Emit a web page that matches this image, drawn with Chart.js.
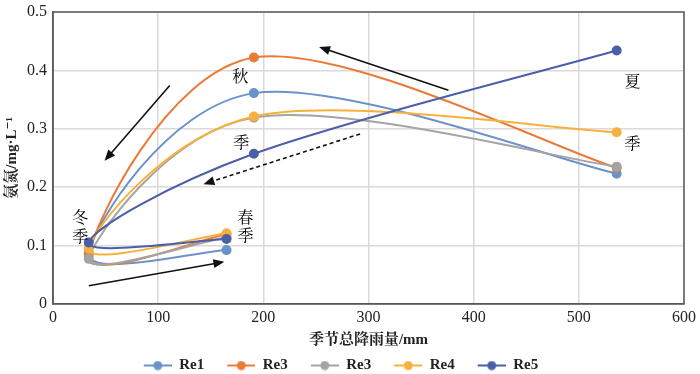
<!DOCTYPE html>
<html>
<head>
<meta charset="utf-8">
<script src="https://cdn.jsdelivr.net/npm/chart.js@4/dist/chart.umd.min.js"></script>
<style>
  html, body { margin: 0; padding: 0; background: #fff; }
  #wrap { width: 700px; height: 374px; }
</style>
</head>
<body>
<div id="wrap"><canvas id="chart" width="700" height="374"></canvas></div>
<script>
const serifFont = "'Liberation Serif', 'DejaVu Serif', 'Noto Serif CJK SC', 'Noto Sans CJK SC', serif";

/* Data: points in order spring, winter, autumn, summer */
const seasonRain = [165, 34, 191, 536];
const seriesNames = ["Re1", "Re3", "Re3", "Re4", "Re5"];
const seriesColors = ["#6b92cb", "#ec7a37", "#a5a3a3", "#f6b13d", "#4b5fa9"];
const re1Values = [0.092, 0.087, 0.361, 0.223];
const re3Values = [0.119, 0.083, 0.422, 0.233];
const re3bValues = [0.114, 0.077, 0.319, 0.235];
const re4Values = [0.121, 0.095, 0.321, 0.294];
const re5Values = [0.111, 0.105, 0.257, 0.434];
const allValues = [re1Values, re3Values, re3bValues, re4Values, re5Values];

const xTicks = [0, 100, 200, 300, 400, 500, 600];
const yTicks = [0, 0.1, 0.2, 0.3, 0.4, 0.5];

/* Annotation text and arrows, in data units */
const seasonLabels = [
    { text: "秋", x: 178, y: 0.388 },
    { text: "季", x: 179, y: 0.274 },
    { text: "夏", x: 551, y: 0.379 },
    { text: "季", x: 551, y: 0.272 },
    { text: "冬", x: 26, y: 0.145 },
    { text: "季", x: 26, y: 0.113 },
    { text: "春", x: 183, y: 0.145 },
    { text: "季", x: 183, y: 0.114 }
];
const arrows = [
    { from: [111, 0.374], to: [49, 0.245], dashed: false },
    { from: [376, 0.366], to: [253, 0.44], dashed: false },
    { from: [292, 0.291], to: [143, 0.205], dashed: true },
    { from: [34, 0.031], to: [163, 0.072], dashed: false }
];

function legendIcon(color) {
    // transparent strip on the left gives the gap between legend items
    const c = document.createElement("canvas");
    c.width = 42;
    c.height = 10;
    const g = c.getContext("2d");
    g.strokeStyle = color;
    g.lineWidth = 2;
    g.beginPath();
    g.moveTo(14, 5);
    g.lineTo(42, 5);
    g.stroke();
    g.fillStyle = color;
    g.beginPath();
    g.arc(28, 5, 4.5, 0, Math.PI * 2);
    g.fill();
    return c;
}

const datasets = seriesNames.map((name, i) => ({
    label: name,
    data: allValues[i].map((v, j) => ({ x: seasonRain[j], y: v })),
    borderColor: seriesColors[i],
    backgroundColor: seriesColors[i],
    borderWidth: 2,
    pointRadius: 4,
    pointHoverRadius: 4,
    showLine: true,
    tension: 0.4,
    icon: legendIcon(seriesColors[i])
})).reverse();

/* Excel-style smoothing: Catmull-Rom control points (1/6 of neighbour span) */
const excelSmooth = {
    id: "excelSmooth",
    beforeDatasetDraw(chart, args) {
        const line = args.meta.dataset;
        const pts = args.meta.data;
        if (!line || pts.length < 2) return;
        line.updateControlPoints(chart.chartArea, "x");
        const n = pts.length;
        pts.forEach((p, i) => {
            const prev = pts[Math.max(i - 1, 0)];
            const next = pts[Math.min(i + 1, n - 1)];
            const dx = (next.x - prev.x) / 6;
            const dy = (next.y - prev.y) / 6;
            p.cp1x = p.x - dx;
            p.cp1y = p.y - dy;
            p.cp2x = p.x + dx;
            p.cp2y = p.y + dy;
        });
    }
};

/* nudge the legend a little to the left, as in the original figure */
const legendShift = {
    id: "legendShift",
    afterLayout(chart) {
        chart.legend.left -= 8;
        chart.legend.right -= 8;
    }
};

const annotations = {
    id: "annotations",
    afterDraw(chart) {
        const { ctx, chartArea, scales } = chart;
        const xs = scales.x, ys = scales.y;
        ctx.save();
        ctx.strokeStyle = "#595959";
        ctx.lineWidth = 1.5;
        ctx.strokeRect(chartArea.left, chartArea.top, chartArea.right - chartArea.left, chartArea.bottom - chartArea.top);

        ctx.fillStyle = "#000";
        ctx.font = "16px " + serifFont;
        ctx.textAlign = "center";
        ctx.textBaseline = "middle";
        seasonLabels.forEach(l => {
            ctx.fillText(l.text, xs.getPixelForValue(l.x), ys.getPixelForValue(l.y));
        });

        arrows.forEach(a => {
            const x1 = xs.getPixelForValue(a.from[0]), y1 = ys.getPixelForValue(a.from[1]);
            const x2 = xs.getPixelForValue(a.to[0]), y2 = ys.getPixelForValue(a.to[1]);
            const ang = Math.atan2(y2 - y1, x2 - x1);
            ctx.strokeStyle = "#111";
            ctx.fillStyle = "#111";
            ctx.lineWidth = 1.6;
            ctx.setLineDash(a.dashed ? [4, 3] : []);
            ctx.beginPath();
            ctx.moveTo(x1, y1);
            ctx.lineTo(x2 - Math.cos(ang) * 8, y2 - Math.sin(ang) * 8);
            ctx.stroke();
            ctx.setLineDash([]);
            ctx.beginPath();
            ctx.moveTo(x2, y2);
            ctx.lineTo(x2 - Math.cos(ang) * 11 + Math.sin(ang) * 4.5, y2 - Math.sin(ang) * 11 - Math.cos(ang) * 4.5);
            ctx.lineTo(x2 - Math.cos(ang) * 11 - Math.sin(ang) * 4.5, y2 - Math.sin(ang) * 11 + Math.cos(ang) * 4.5);
            ctx.closePath();
            ctx.fill();
        });
        ctx.restore();
    }
};

new Chart(document.querySelector("#chart"), {
    type: "scatter",
    data: { datasets },
    options: {
        responsive: false,
        animation: false,
        events: [],
        layout: { padding: { top: 0, right: 16, left: 0, bottom: -9 } },
        plugins: {
            tooltip: { enabled: false },
            legend: {
                position: "bottom",
                reverse: true,
                labels: {
                    usePointStyle: true,
                    pointStyleWidth: 42,
                    boxHeight: 10,
                    padding: 9,
                    color: "#222",
                    font: { family: serifFont, size: 15, weight: "bold" },
                    generateLabels(chart) {
                        return chart.data.datasets.map((ds, i) => ({
                            text: ds.label,
                            pointStyle: ds.icon,
                            fillStyle: ds.borderColor,
                            strokeStyle: ds.borderColor,
                            lineWidth: 0,
                            fontColor: "#222",
                            datasetIndex: i
                        }));
                    }
                }
            }
        },
        scales: {
            x: {
                type: "linear",
                min: 0,
                max: 600,
                afterBuildTicks: s => { s.ticks = xTicks.map(v => ({ value: v })); },
                grid: { color: "#e0d8d8", lineWidth: 1.5, drawTicks: false },
                border: { color: "#595959", width: 1.5 },
                ticks: { color: "#222", padding: 4, font: { family: serifFont, size: 16 } },
                title: {
                    display: true,
                    text: "季节总降雨量/mm",
                    color: "#222",
                    padding: { top: 0, bottom: 0 },
                    font: { family: serifFont, size: 15, weight: "bold" }
                }
            },
            y: {
                min: 0,
                max: 0.5,
                afterBuildTicks: s => { s.ticks = yTicks.map(v => ({ value: v })); },
                afterFit: s => { s.width = 53; s.paddingTop = 12; },
                grid: { color: "#e0d8d8", lineWidth: 1.5, drawTicks: false },
                border: { color: "#595959", width: 1.5 },
                ticks: { color: "#222", padding: 6, font: { family: serifFont, size: 16 } },
                title: {
                    display: true,
                    text: "氨氮/mg·L⁻¹",
                    color: "#222",
                    padding: { top: 3, bottom: 2 },
                    font: { family: serifFont, size: 15, weight: "bold" }
                }
            }
        }
    },
    plugins: [excelSmooth, legendShift, annotations]
});
</script>
</body>
</html>
